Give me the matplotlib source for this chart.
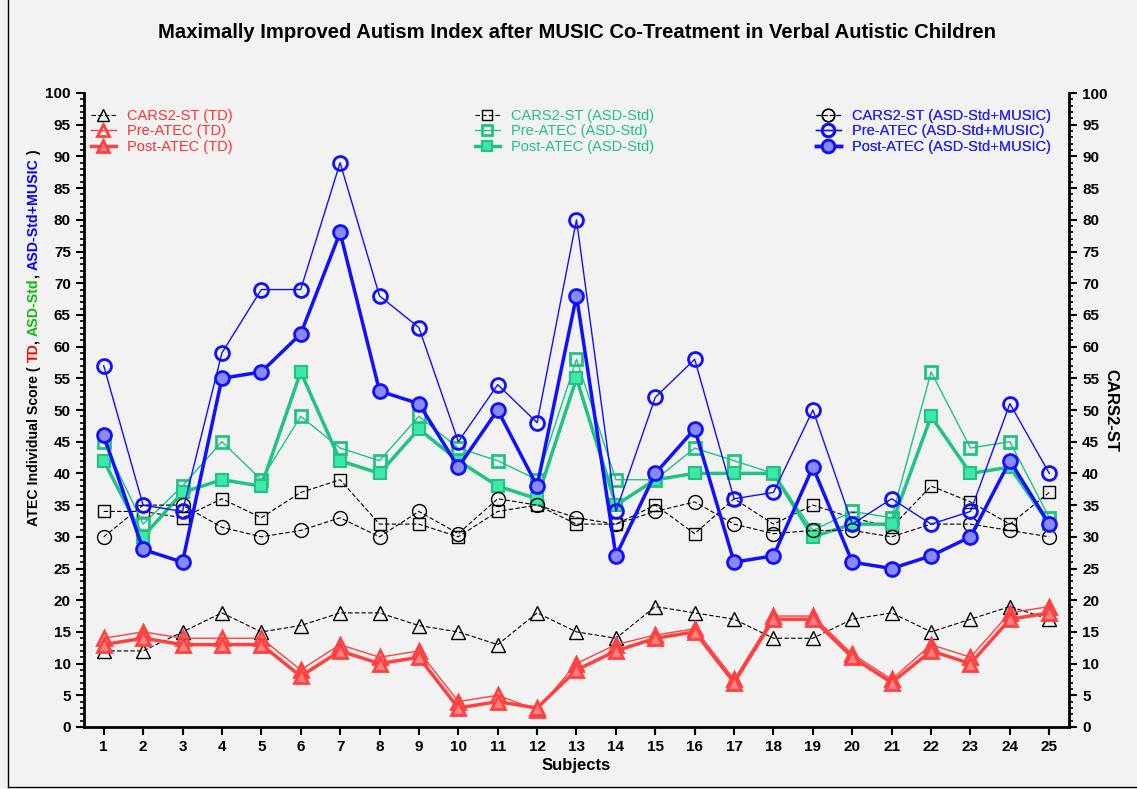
import matplotlib
matplotlib.use("Agg")
import matplotlib.pyplot as plt
from matplotlib.ticker import MultipleLocator
from matplotlib.lines import Line2D
import numpy as np

plt.rcParams['font.family'] = ['Liberation Sans', 'DejaVu Sans']

# ---- data ----
subjects = np.arange(1, 26)

cars_td = [12, 12, 15, 18, 15, 16, 18, 18, 16, 15, 13, 18, 15, 14, 19, 18, 17, 14, 14, 17, 18, 15, 17, 19, 17]
pre_td = [14, 15, 14, 14, 14, 9, 13, 11, 12, 4, 5, 2.7, 10, 13, 14.5, 15.5, 7.5, 17.5, 17.5, 11.5, 7.5, 13, 11, 18, 19]
post_td = [13, 14, 13, 13, 13, 8, 12, 10, 11, 3, 4, 3, 9, 12, 14, 15, 7, 17, 17, 11, 7, 12, 10, 17, 18]

cars_std = [34, 34, 33, 36, 33, 37, 39, 32, 32, 30, 34, 35, 32, 32, 35, 30.5, 36, 32, 35, 33, 31.5, 38, 35.5, 32, 37]
pre_std = [45, 32, 38, 45, 39, 49, 44, 42, 49, 44, 42, 39, 58, 39, 39, 44, 42, 40, 31, 34, 33, 56, 44, 45, 33]
post_std = [42, 30, 37, 39, 38, 56, 42, 40, 47, 42, 38, 36, 55, 35, 39, 40, 40, 40, 30, 32, 32, 49, 40, 41, 32]

cars_mus = [30, 35, 35, 31.5, 30, 31, 33, 30, 34, 30.5, 36, 35, 33, 32, 34, 35.5, 32, 30.5, 31, 31, 30, 32, 32, 31, 30]
pre_mus = [57, 35, 34, 59, 69, 69, 89, 68, 63, 45, 54, 48, 80, 34, 52, 58, 36, 37, 50, 32, 36, 32, 34, 51, 40]
post_mus = [46, 28, 26, 55, 56, 62, 78, 53, 51, 41, 50, 38, 68, 27, 40, 47, 26, 27, 41, 26, 25, 27, 30, 42, 32]

RED = '#ff4040'
RED_FILL = '#ff8080'
GREEN = '#1fc383'
GREEN_FILL = '#40e8a8'
BLUE = '#1010ff'
BLUE_FILL = '#8a8aff'
BG = '#f2f2f2'

fig = plt.figure(figsize=(11.37, 7.89), dpi=100, facecolor=BG)
ax = fig.add_axes([84 / 1137, 1 - 727 / 789, (1069 - 84) / 1137, (727 - 93) / 789])
ax.set_facecolor(BG)

# TD group
l1, = ax.plot(subjects, cars_td, ls='--', color='black', lw=0.8, marker='^', ms=10,
              mfc='none', mec='black', mew=1.0, dashes=(4, 2))
l2, = ax.plot(subjects, pre_td, ls='-', color=RED, lw=1.0, marker='^', ms=10,
              mfc='none', mec=RED, mew=2.0)
l3, = ax.plot(subjects, post_td, ls='-', color=RED, lw=2.5, marker='^', ms=10,
              mfc=RED_FILL, mec=RED, mew=2.0)
# ASD-Std group
l4, = ax.plot(subjects, cars_std, ls='--', color='black', lw=0.8, marker='s', ms=8,
              mfc='none', mec='black', mew=1.0, dashes=(4, 2))
l5, = ax.plot(subjects, pre_std, ls='-', color=GREEN, lw=1.0, marker='s', ms=8,
              mfc='none', mec=GREEN, mew=2.0)
l6, = ax.plot(subjects, post_std, ls='-', color=GREEN, lw=2.5, marker='s', ms=8,
              mfc=GREEN_FILL, mec=GREEN, mew=1.5)
# ASD-Std+MUSIC group
l7, = ax.plot(subjects, cars_mus, ls='--', color='black', lw=0.8, marker='o', ms=10,
              mfc='none', mec='black', mew=1.0, dashes=(4, 2))
l8, = ax.plot(subjects, pre_mus, ls='-', color=BLUE, lw=1.0, marker='o', ms=10,
              mfc='none', mec=BLUE, mew=2.0)
l9, = ax.plot(subjects, post_mus, ls='-', color=BLUE, lw=2.5, marker='o', ms=10,
              mfc=BLUE_FILL, mec=BLUE, mew=2.0)

ax.set_xlim(0.5, 25.5)
ax.set_ylim(0, 100)
ax.set_xticks(subjects)
ax.yaxis.set_major_locator(MultipleLocator(5))
ax.yaxis.set_minor_locator(MultipleLocator(1))
for s in ['top', 'right']:
    ax.spines[s].set_visible(False)
for s in ['left', 'bottom']:
    ax.spines[s].set_linewidth(2)
ax.tick_params(axis='both', which='major', length=6, width=1.5, labelsize=11, direction='out')
ax.tick_params(axis='y', which='minor', length=3, width=1.2, direction='out')
for lab in ax.get_xticklabels() + ax.get_yticklabels():
    lab.set_fontweight('bold')
ax.set_xlabel('Subjects', fontsize=12, fontweight='bold', labelpad=3)

ax2 = ax.twinx()
ax2.set_ylim(0, 100)
ax2.yaxis.set_major_locator(MultipleLocator(5))
ax2.yaxis.set_minor_locator(MultipleLocator(1))
for s in ['top', 'left', 'bottom']:
    ax2.spines[s].set_visible(False)
ax2.spines['right'].set_linewidth(2)
ax2.tick_params(axis='y', which='major', length=6, width=1.5, labelsize=11, direction='out')
ax2.tick_params(axis='y', which='minor', length=3, width=1.2, direction='out')
for lab in ax2.get_yticklabels():
    lab.set_fontweight('bold')
ax2.set_ylabel('CARS2-ST', fontsize=12, fontweight='bold', rotation=270, labelpad=8)

fig.text(0.5 + 9 / 1137, 1 - 33 / 789,
         'Maximally Improved Autism Index after MUSIC Co-Treatment in Verbal Autistic Children',
         ha='center', va='center', fontsize=14.6, fontweight='bold')

# legends, one per group
groups = [
    ([l1, l2, l3], ['CARS2-ST (TD)', 'Pre-ATEC (TD)', 'Post-ATEC (TD)'], '#ff3030', 91),
    ([l4, l5, l6], ['CARS2-ST (ASD-Std)', 'Pre-ATEC (ASD-Std)', 'Post-ATEC (ASD-Std)'], '#22c07f', 475),
    ([l7, l8, l9], ['CARS2-ST (ASD-Std+MUSIC)', 'Pre-ATEC (ASD-Std+MUSIC)', 'Post-ATEC (ASD-Std+MUSIC)'], '#2020ff', 816),
]
for handles, labels, col, xpx in groups:
    leg = ax.legend(handles, labels, loc='upper left', bbox_to_anchor=(xpx / 1137, 1 - 109 / 789),
                    bbox_transform=fig.transFigure, frameon=False, fontsize=10.5, labelcolor=col,
                    handlelength=1.7, handletextpad=0.8, labelspacing=0.1, borderpad=0,
                    borderaxespad=0, markerscale=0.9)
    ax.add_artist(leg)

# multi-coloured left axis label
pieces = [('ATEC Individual Score ( ', 'black'), ('TD', 'red'), (', ', 'black'),
          ('ASD-Std', '#10b810'), (', ', 'black'), ('ASD-Std+MUSIC', 'blue'), (' )', 'black')]
renderer = fig.canvas.get_renderer()
ypos = 1 - 526 / 789
for txt, col in pieces:
    t = fig.text(34 / 1137, ypos, txt, rotation=90, ha='center', va='bottom',
                 fontsize=10.2, fontweight='bold', color=col)
    bb = t.get_window_extent(renderer=renderer)
    ypos += bb.height / fig.bbox.height

# thin frame around the figure (left and bottom edges visible)
fig.add_artist(Line2D([8 / 1137, 8 / 1137], [2 / 789, 1], transform=fig.transFigure, color='black', lw=1))
fig.add_artist(Line2D([8 / 1137, 1], [2 / 789, 2 / 789], transform=fig.transFigure, color='black', lw=1))

fig.savefig('out.png', dpi=100, facecolor=BG)
